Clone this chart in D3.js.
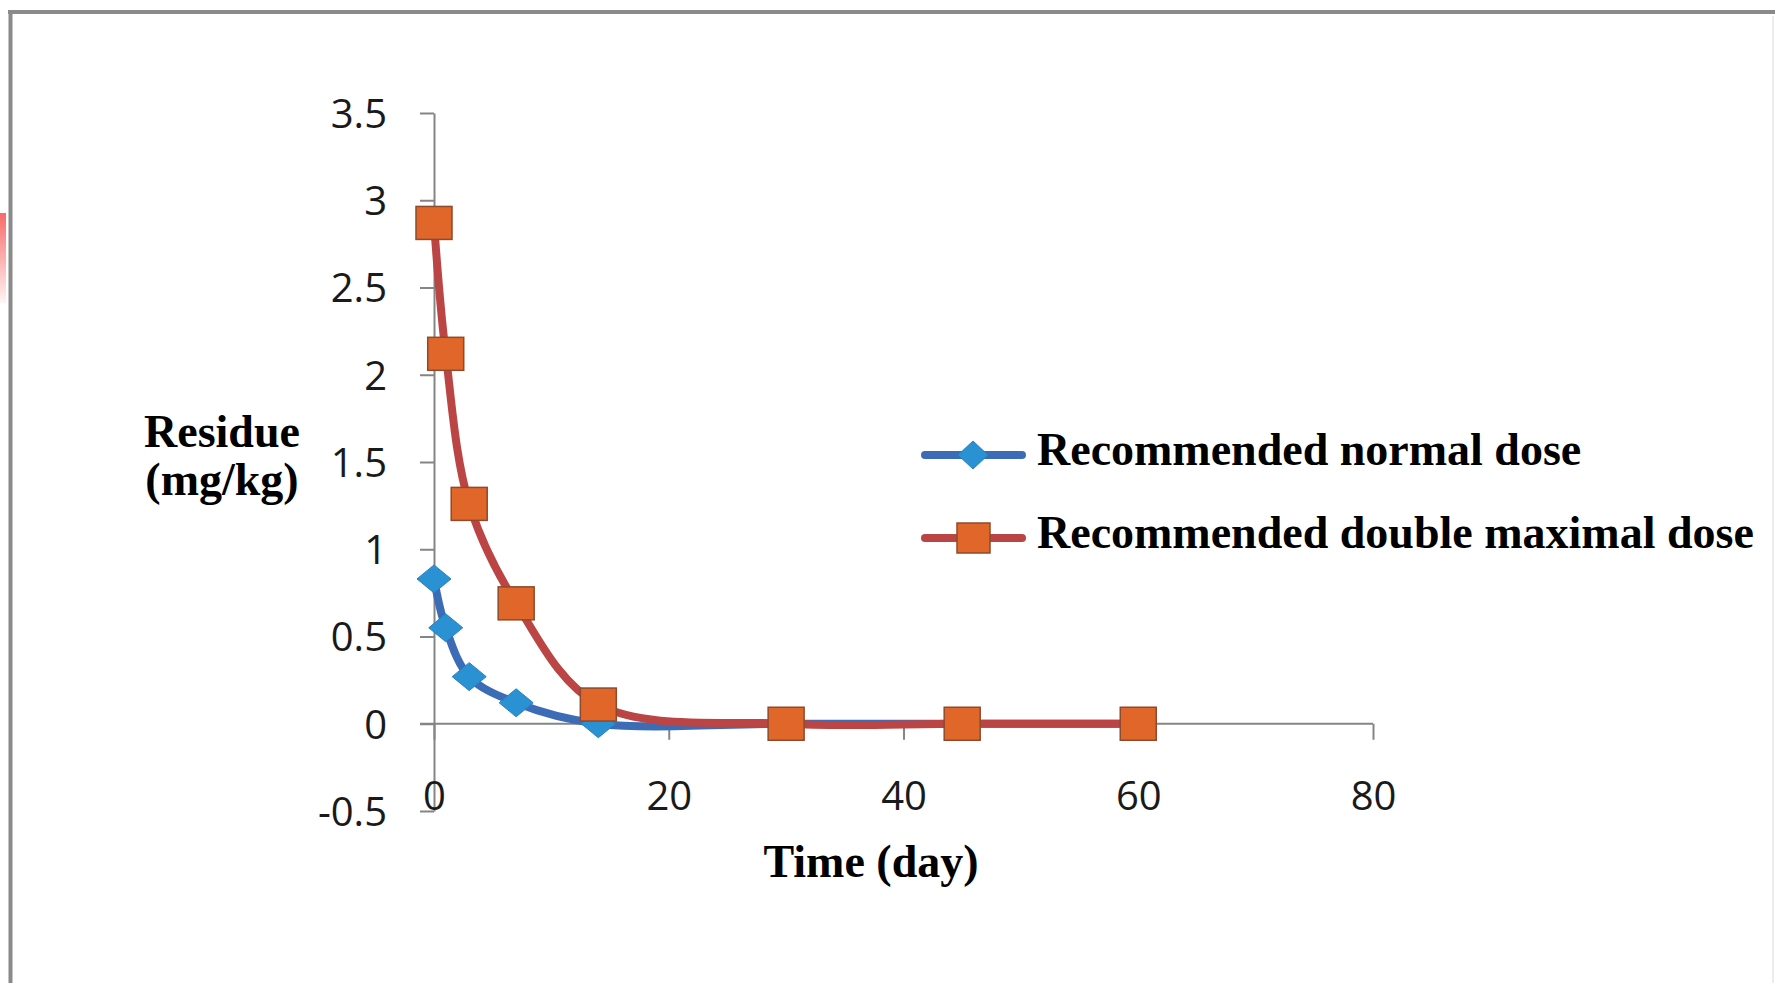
<!DOCTYPE html>
<html>
<head>
<meta charset="utf-8">
<script src="https://cdn.jsdelivr.net/npm/d3@7"></script>
<style>
  html, body { margin: 0; padding: 0; background: #ffffff; }
  svg { display: block; }
</style>
</head>
<body>
<svg id="chart" width="1775" height="983"></svg>
<script>
// Residue decline over time for two application rates
const days = [0, 1, 3, 7, 14, 30, 45, 60];
const normalDose = [0.83, 0.55, 0.27, 0.12, 0.0, 0.0, 0.0, 0.0];
const doubleDose = [2.87, 2.12, 1.26, 0.69, 0.11, 0.0, 0.0, 0.0];
const seriesNames = ["Recommended normal dose", "Recommended double maximal dose"];
const xTicks = [0, 20, 40, 60, 80];
const yTicks = [-0.5, 0, 0.5, 1, 1.5, 2, 2.5, 3, 3.5];

const svg = d3.select("#chart");
const W = 1775, H = 983;

const x = d3.scaleLinear().domain([0, 80]).range([434, 1373]);
const y = d3.scaleLinear().domain([-0.5, 3.5]).range([811, 113]);

const axisColor = "#858585";
const tickFont = "'Open Sans', 'Noto Sans', sans-serif";
const titleFont = "'Liberation Serif', 'Times New Roman', serif";

// outer frame
const defs = svg.append("defs");
const pink = defs.append("linearGradient").attr("id", "pinkEdge")
  .attr("x1", 0).attr("y1", 0).attr("x2", 0).attr("y2", 1);
pink.append("stop").attr("offset", "0%").attr("stop-color", "#f76a6a");
pink.append("stop").attr("offset", "100%").attr("stop-color", "#fff4f4");
svg.append("rect").attr("x", 0).attr("y", 213).attr("width", 6).attr("height", 90)
  .attr("fill", "url(#pinkEdge)");

svg.append("line").attr("x1", 8).attr("x2", W).attr("y1", 12).attr("y2", 12)
  .attr("stroke", "#8a8a8a").attr("stroke-width", 4);
svg.append("line").attr("x1", 10.5).attr("x2", 10.5).attr("y1", 10).attr("y2", H)
  .attr("stroke", "#8a8a8a").attr("stroke-width", 4);
svg.append("line").attr("x1", 1773).attr("x2", 1773).attr("y1", 16).attr("y2", H)
  .attr("stroke", "#ececec").attr("stroke-width", 2);

// y axis
const yAxis = d3.axisLeft(y).tickValues(yTicks).tickSize(14).tickSizeOuter(0)
  .tickPadding(33).tickFormat(d => String(d));
const gy = svg.append("g").attr("transform", `translate(${x(0)},0)`).call(yAxis);
gy.select(".domain").attr("stroke", axisColor).attr("stroke-width", 2);
gy.selectAll(".tick line").attr("stroke", axisColor).attr("stroke-width", 2);
gy.selectAll(".tick text").attr("font-family", tickFont).attr("font-size", 40)
  .attr("fill", "#1a1a1a").attr("dy", "0.36em");

// x axis drawn along y = 0
const xAxis = d3.axisBottom(x).tickValues(xTicks).tickSize(16).tickSizeOuter(0)
  .tickFormat(d => String(d));
const gx = svg.append("g").attr("transform", `translate(0,${y(0)})`).call(xAxis);
gx.select(".domain").remove();
gx.selectAll(".tick line").attr("stroke", axisColor).attr("stroke-width", 2);
gx.selectAll(".tick text").attr("font-family", tickFont).attr("font-size", 40)
  .attr("fill", "#1a1a1a").attr("y", 72).attr("dy", "0.36em");
gx.insert("line", ":first-child").attr("x1", x(0) - 14).attr("x2", x(80))
  .attr("y1", 0).attr("y2", 0).attr("stroke", axisColor).attr("stroke-width", 2);

// axis titles
svg.append("text").attr("x", 222).attr("y", 447).attr("text-anchor", "middle")
  .attr("font-family", titleFont).attr("font-weight", "bold").attr("font-size", 46)
  .attr("fill", "#000").text("Residue");
svg.append("text").attr("x", 222).attr("y", 495).attr("text-anchor", "middle")
  .attr("font-family", titleFont).attr("font-weight", "bold").attr("font-size", 46)
  .attr("fill", "#000").text("(mg/kg)");
svg.append("text").attr("x", 871).attr("y", 877).attr("text-anchor", "middle")
  .attr("font-family", titleFont).attr("font-weight", "bold").attr("font-size", 46)
  .attr("fill", "#000").text("Time (day)");

// series
const series = [
  { name: seriesNames[0], values: normalDose, line: "#3d6cb7", fill: "#2a92d3",
    stroke: "#2a80c0", marker: "diamond" },
  { name: seriesNames[1], values: doubleDose, line: "#bb4544", fill: "#e0662a",
    stroke: "#8e4a2c", marker: "square" }
];

const lineGen = d3.line()
  .x(d => x(d[0])).y(d => y(d[1]))
  .curve(d3.curveCatmullRom.alpha(0.5));

function drawMarker(g, kind, cx, cy, s) {
  if (kind === "diamond") {
    g.append("path")
      .attr("d", `M${cx},${cy - 14} L${cx + 17},${cy} L${cx},${cy + 14} L${cx - 17},${cy} Z`)
      .attr("fill", s.fill).attr("stroke", s.stroke).attr("stroke-width", 1);
  } else {
    g.append("rect").attr("x", cx - 18).attr("y", cy - 16.5)
      .attr("width", 36).attr("height", 33)
      .attr("fill", s.fill).attr("stroke", s.stroke).attr("stroke-width", 1.5);
  }
}

series.forEach(s => {
  const pts = days.map((d, i) => [d, s.values[i]]);
  const g = svg.append("g");
  g.append("path").datum(pts).attr("d", lineGen)
    .attr("fill", "none").attr("stroke", s.line).attr("stroke-width", 8)
    .attr("stroke-linecap", "round");
  pts.forEach(p => drawMarker(g, s.marker, x(p[0]), y(p[1]), s));
});

// legend
const legendRows = [455, 538];
series.forEach((s, i) => {
  const g = svg.append("g");
  const ly = legendRows[i];
  g.append("line").attr("x1", 925).attr("x2", 1022).attr("y1", ly).attr("y2", ly)
    .attr("stroke", s.line).attr("stroke-width", 8).attr("stroke-linecap", "round");
  if (s.marker === "diamond") {
    g.append("path")
      .attr("d", `M973,${ly - 14} L988,${ly} L973,${ly + 14} L958,${ly} Z`)
      .attr("fill", s.fill).attr("stroke", s.stroke).attr("stroke-width", 1);
  } else {
    g.append("rect").attr("x", 957).attr("y", ly - 15).attr("width", 33).attr("height", 30)
      .attr("fill", s.fill).attr("stroke", s.stroke).attr("stroke-width", 1.5);
  }
  g.append("text").attr("x", 1037).attr("y", ly + 10)
    .attr("font-family", titleFont).attr("font-weight", "bold").attr("font-size", 46)
    .attr("fill", "#000").text(s.name);
});
</script>
</body>
</html>
